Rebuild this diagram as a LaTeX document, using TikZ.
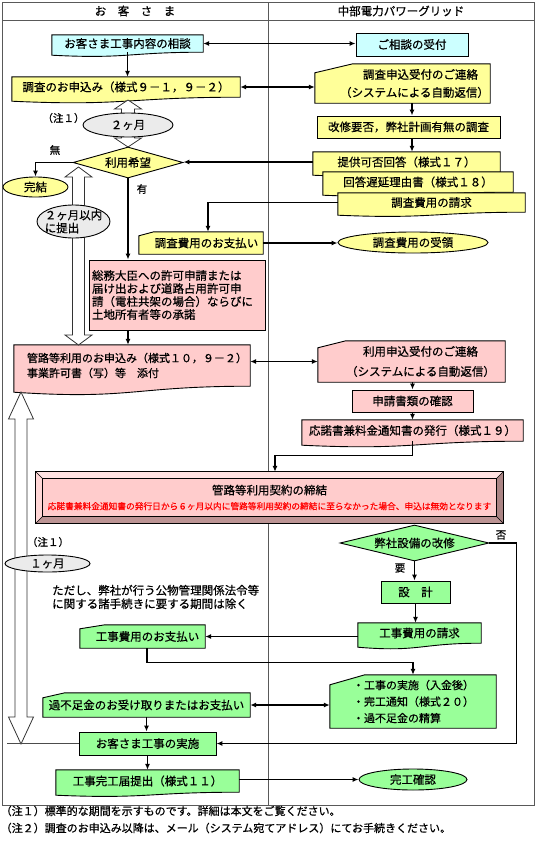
\documentclass[tikz,border=0pt]{standalone}
\usepackage{fontspec}
\setmainfont{Noto Sans CJK JP}[FakeBold=0.6]
\usetikzlibrary{arrows.meta,shapes.geometric,calc,backgrounds}
\tikzset{font=\fontsize{11.5}{13}\selectfont}
\tikzset{every node/.append style={transform shape=false}}

\definecolor{cyanbox}{HTML}{CCFFFF}
\definecolor{yellowbox}{HTML}{FFFF99}
\definecolor{pinkbox}{HTML}{FFCCCC}
\definecolor{greenbox}{HTML}{99FF99}
\definecolor{graybox}{HTML}{EBEBEB}
\definecolor{bevtop}{HTML}{FFE2E2}
\definecolor{bevleft}{HTML}{FFD6D6}
\definecolor{bevbottom}{HTML}{BC9494}
\definecolor{bevright}{HTML}{AA8484}

% wavy-bottom document and cut-corner input outlines, drawn round a node
\newcommand\docshape[3]{%
  \draw[shapeline,fill=#2] (#1.north west) -- (#1.north east) -- (#1.south east)
    .. controls (#1.south) and ($(#1.south)+(0,{2.3*#3})$) .. ($(#1.south west)+(0,#3)$) -- cycle;}
\newcommand\manshape[4]{%
  \draw[shapeline,fill=#2] ($(#1.north west)+(0,#4)$) -- ($(#1.north west)+(#3,0)$)
    -- (#1.north east) -- (#1.south east) -- (#1.south west) -- cycle;}

\begin{document}
\begin{tikzpicture}[x=1pt,y=-1pt,
  rbox/.style={draw=black,line width=0.9pt,inner sep=0pt,align=center},
  tbox/.style={inner sep=0pt,align=center},
  oval/.style={ellipse,draw=black,line width=0.9pt,inner sep=0pt},
  choice/.style={diamond,draw=black,line width=0.9pt,inner sep=0pt},
  shapeline/.style={draw=black,line width=0.9pt},
  frameline/.style={draw=black!65,line width=0.8pt},
  conn/.style={line width=1.4pt},
  flow/.style={-{Latex[length=6pt,width=5pt]}},
  flowtwo/.style={{Latex[length=6pt,width=5pt]}-{Latex[length=6pt,width=5pt]}},
  hollow/.style={draw=black!80,line width=0.8pt,fill=white},
  smalltext/.style={inner sep=0pt,font=\fontsize{10.5}{12}\selectfont}]

  \useasboundingbox (0,0) rectangle (536,841);

  % period arrows, under the ovals
  \foreach \cx/\ta/\tb/\hw/\sw/\hl in {128/100/147/13.5/6.5/9, 78.5/167/345/13.5/6/10, 21/392/744/12.5/6/27}{
    \draw[hollow] (\cx,\ta) -- ({\cx+\hw},{\ta+\hl}) -- ({\cx+\sw},{\ta+\hl}) -- ({\cx+\sw},{\tb-\hl})
      -- ({\cx+\hw},{\tb-\hl}) -- (\cx,\tb) -- ({\cx-\hw},{\tb-\hl}) -- ({\cx-\sw},{\tb-\hl})
      -- ({\cx-\sw},{\ta+\hl}) -- ({\cx-\hw},{\ta+\hl}) -- cycle;
  }

  \node (hcust) at (135,11) {お　客　さ　ま};
  \node (hpg) at (401,11) {中部電力パワーグリッド};

  % customer side
  \node[tbox,minimum width=151pt,minimum height=17pt] (consult) at (127.5,43.5) {お客さま工事内容の相談};
  \node[tbox,minimum width=228pt,minimum height=20pt] (apply) at (126,87) {調査のお申込み（様式９－１，９－２）};
  \node[oval,fill=graybox,minimum width=90pt,minimum height=24pt] (months2) at (128,125) {２ヶ月};
  \node[smalltext] (note1a) at (63.5,118) {（注１）};
  \node[choice,aspect=3.5,fill=yellowbox,minimum width=110pt,minimum height=31pt] (wish) at (128,162.5) {利用希望};
  \node[smalltext] (lblno) at (55,150) {無};
  \node[smalltext] (lblyes) at (142,189) {有};
  \node[oval,fill=yellowbox,minimum width=65pt,minimum height=20pt] (done) at (35.5,187) {完結};
  \node[oval,fill=graybox,minimum width=73pt,minimum height=33pt,inner xsep=-3pt,inner ysep=-1.5pt,align=left] (within2) at (73.5,221.5) {２ヶ月以内\\に提出};
  \node[tbox,minimum width=124pt,minimum height=22pt,text width=124pt] (paysurvey) at (201,243) {\hspace*{11pt}調査費用のお支払い};
  \node[rbox,fill=pinkbox,minimum width=176pt,minimum height=70pt,text width=170pt,align=left] (permit) at (177,295)
    {総務大臣への許可申請または\\届け出および道路占用許可申\\請（電柱共架の場合）ならびに\\土地所有者等の承諾};
  \node[tbox,minimum width=236pt,minimum height=41pt,text width=210pt,align=left,font=\fontsize{11}{13}\selectfont] (usageapply) at (132,365.5)
    {管路等利用のお申込み（様式１０，９－２）\\[2pt]事業許可書（写）等　添付};
  \node[tbox,minimum width=467pt,minimum height=51pt] (contract) at (269.5,497.5)
    {管路等利用契約の締結\\[2pt]{\color{red}\fontsize{8.7}{10}\selectfont 応諾書兼料金通知書の発行日から６ヶ月以内に管路等利用契約の締結に至らなかった場合、申込は無効となります}};
  \node[smalltext] (note1b) at (48,542) {（注１）};
  \node[oval,fill=graybox,minimum width=85pt,minimum height=17pt] (months1) at (47.5,563.5) {１ヶ月};
  \node[anchor=west,inner sep=0pt,align=left,font=\fontsize{11.5}{13.5}\selectfont] (except) at (52,597)
    {ただし、弊社が行う公物管理関係法令等\\に関する諸手続きに要する期間は除く};
  \node[tbox,minimum width=125pt,minimum height=23pt,text width=125pt] (paywork) at (142.5,636.5) {\hspace*{10pt}工事費用のお支払い};
  \node[tbox,minimum width=207pt,minimum height=24pt] (settle) at (146.5,705) {過不足金のお受け取りまたはお支払い};
  \node[rbox,fill=greenbox,minimum width=137pt,minimum height=23pt] (custwork) at (147.5,743.5) {お客さま工事の実施};
  \node[tbox,minimum width=183pt,minimum height=22pt] (finish) at (147.5,781) {工事完工届提出（様式１１）};

  % power grid side
  \node[rbox,fill=cyanbox,minimum width=112pt,minimum height=23pt] (accept) at (412,44.5) {ご相談の受付};
  \node[tbox,minimum width=175pt,minimum height=39pt,text width=175pt] (recvnotice) at (402.5,83.5)
    {\hspace*{36pt}調査申込受付のご連絡\\[5pt]\hspace*{24pt}（システムによる自動返信）};
  \node[rbox,fill=yellowbox,minimum width=183pt,minimum height=22pt] (survey) at (408.5,127) {改修要否，弊社計画有無の調査};
  \node[tbox,minimum width=187pt,minimum height=20pt] (answer) at (406.5,162) {提供可否回答（様式１７）};
  \node[tbox,minimum width=190pt,minimum height=20pt] (delay) at (418,182) {回答遅延理由書（様式１８）};
  \node[tbox,minimum width=187pt,minimum height=19pt] (bill) at (431.5,202.5) {調査費用の請求};
  \node[oval,fill=yellowbox,minimum width=150pt,minimum height=21pt] (received) at (413,242.5) {調査費用の受領};
  \node[tbox,minimum width=187pt,minimum height=41pt,text width=187pt] (usenotice) at (411.5,361.5)
    {\hspace*{18pt}利用申込受付のご連絡\\[7pt]\hspace*{18pt}（システムによる自動返信）};
  \node[rbox,fill=pinkbox,minimum width=121pt,minimum height=22pt] (check) at (412.5,401) {申請書類の確認};
  \node[tbox,minimum width=221pt,minimum height=21pt] (issue) at (412.5,430.5) {応諾書兼料金通知書の発行（様式１９）};
  \node[choice,aspect=4,fill=greenbox,minimum width=149pt,minimum height=36pt] (modify) at (414.5,543) {弊社設備の改修};
  \node[smalltext] (lblneed) at (400,568) {要};
  \node[smalltext] (lblnot) at (501,535) {否};
  \node[rbox,fill=greenbox,minimum width=69pt,minimum height=22pt] (design) at (415.5,592) {設　計};
  \node[tbox,minimum width=123pt,minimum height=20pt] (workbill) at (419.5,633) {工事費用の請求};
  \node[tbox,minimum width=166pt,minimum height=53pt,text width=120pt,align=left,font=\fontsize{11}{13}\selectfont] (worknotice) at (413,701.5)
    {・工事の実施（入金後）\\[3.5pt]・完工通知（様式２０）\\[3.5pt]・過不足金の精算};
  \node[oval,fill=greenbox,minimum width=108pt,minimum height=21pt] (complete) at (413,779.5) {完工確認};

  \node[anchor=west,inner sep=0pt,align=left,font=\fontsize{11}{17}\selectfont] (foot) at (0.5,819.5)
    {（注１）標準的な期間を示すものです。詳細は本文をご覧ください。\\（注２）調査のお申込み以降は、メール（システム宛てアドレス）にてお手続きください。};

  % connectors
  \draw[conn,flowtwo] (consult.east) -- (consult.east -| accept.west);
  \draw[conn,flow] (consult.south) -- (consult.south |- apply.north);
  \draw[conn,flowtwo] (apply.east) -- (apply.east -| recvnotice.west);
  \draw[conn,flow] ([xshift=9.5pt]recvnotice.south) -- ([xshift=9.5pt]recvnotice.south |- survey.north);
  \draw[conn,flow] ([xshift=3.5pt]survey.south) -- ([xshift=3.5pt]survey.south |- answer.north);
  \draw[conn,flow] (answer.west) -- (answer.west -| wish.east);
  \draw[conn,flow] (wish.west) -| (done.north);
  \draw[conn,flow] (wish.south) -- (wish.south |- permit.north);
  \draw[conn,flow] (wish.south |- permit.south) -- (wish.south |- usageapply.north);
  \draw[conn,flow] (bill.west) -| ([xshift=7pt]paysurvey.north);
  \draw[conn,flow] (paysurvey.east) -- (paysurvey.east -| received.west);
  \draw[conn,flowtwo] (usenotice.west) -- (usenotice.west -| usageapply.east);
  \draw[conn,flow] (usenotice.south -| check.north) -- (check.north);
  \draw[conn,flow] (check.south) -- (check.south |- issue.north);
  \draw[conn,flow] (issue.south) -- ++(0,14) -| ([xshift=5.5pt]contract.north);
  \draw[conn,flow] (modify.south) -- (modify.south |- design.north);
  \draw[conn,flow] (design.south) -- (design.south |- workbill.north);
  \draw[conn,flow] (workbill.west |- paywork.east) -- (paywork.east);
  \draw[conn,flow] ([xshift=4.5pt]paywork.south) -- ++(0,14) -| (worknotice.north);
  \draw[conn,flowtwo] (settle.east) -- (settle.east -| worknotice.west);
  \draw[conn,flow] (settle.south) -- (settle.south |- custwork.north);
  \draw[conn,flow] (modify.east) -- ++(27,0) |- (custwork.east);
  \draw[conn,flow] (custwork.south) -- (custwork.south |- finish.north);
  \draw[conn,flow] (finish.east |- complete.west) -- (complete.west);
  \draw[black!70,line width=0.6pt] (custwork.west) -- ++(-72,0);

  \begin{scope}[on background layer]
    \draw[frameline] (2,2) rectangle (534,805);
    \draw[frameline] (2,20) -- (534,20);
    \draw[frameline] (268,2) -- (268,805);
    \docshape{consult}{cyanbox}{3}
    \docshape{apply}{yellowbox}{4}
    \docshape{answer}{yellowbox}{3}
    \docshape{delay}{yellowbox}{3}
    \docshape{bill}{yellowbox}{3}
    \docshape{usageapply}{pinkbox}{6}
    \docshape{issue}{pinkbox}{4}
    \docshape{workbill}{greenbox}{4}
    \docshape{finish}{greenbox}{3}
    \manshape{recvnotice}{yellowbox}{38}{9}
    \manshape{paysurvey}{yellowbox}{15}{4}
    \manshape{usenotice}{pinkbox}{28}{7}
    \manshape{paywork}{greenbox}{25}{4}
    \manshape{settle}{greenbox}{22}{5}
    \manshape{worknotice}{greenbox}{35}{10}
    % bevelled frame of the contract box
    \fill[bevtop] (contract.north west) -- (contract.north east) -- ($(contract.north east)+(-7,7)$) -- ($(contract.north west)+(7,7)$) -- cycle;
    \fill[bevleft] (contract.north west) -- ($(contract.north west)+(7,7)$) -- ($(contract.south west)+(7,-7)$) -- (contract.south west) -- cycle;
    \fill[bevbottom] (contract.south west) -- ($(contract.south west)+(7,-7)$) -- ($(contract.south east)+(-7,-7)$) -- (contract.south east) -- cycle;
    \fill[bevright] (contract.north east) -- ($(contract.north east)+(-7,7)$) -- ($(contract.south east)+(-7,-7)$) -- (contract.south east) -- cycle;
    \draw[shapeline,fill=pinkbox] ($(contract.north west)+(7,7)$) rectangle ($(contract.south east)+(-7,-7)$);
    \draw[shapeline] (contract.north west) rectangle (contract.south east);
    \foreach \c/\dx/\dy in {north west/7/7, north east/-7/7, south west/7/-7, south east/-7/-7}
      \draw[line width=0.6pt] (contract.\c) -- ++(\dx,\dy);
  \end{scope}
\end{tikzpicture}
\end{document}
